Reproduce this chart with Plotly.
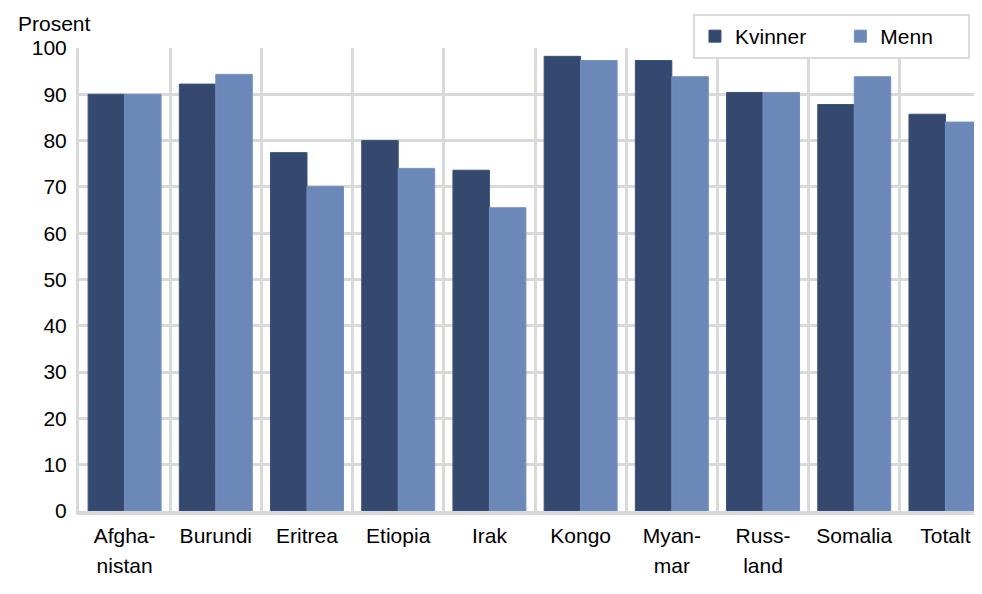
import plotly.graph_objects as go

categories = ["Afgha-<br>nistan", "Burundi", "Eritrea", "Etiopia", "Irak", "Kongo",
              "Myan-<br>mar", "Russ-<br>land", "Somalia", "Totalt"]
kvinner = [90.0, 92.2, 77.4, 80.0, 73.6, 98.2, 97.3, 90.4, 87.8, 85.7]
menn = [90.0, 94.3, 70.1, 74.0, 65.5, 97.3, 93.8, 90.4, 93.8, 84.0]
y_ticks = [0, 10, 20, 30, 40, 50, 60, 70, 80, 90, 100]
series_names = ["Kvinner", "Menn"]

FONT = "Liberation Sans, Arial, sans-serif"
GRID = "#D9D9D9"
x_idx = list(range(len(categories)))
PAD = "\u00a0" * 5

def tick_html(label):
    parts = label.split("<br>")
    return "<br>".join("<span style='font-size:21px'>" + p + "</span>" for p in parts)

fig = go.Figure()
fig.add_trace(go.Bar(name=series_names[0] + PAD, x=x_idx, y=kvinner, marker_color="#35496E",
                     marker_line=dict(color="#3A5080", width=1)))
fig.add_trace(go.Bar(name=series_names[1] + PAD, x=x_idx, y=menn, marker_color="#6B88B8",
                     marker_line=dict(color="#7390C0", width=1)))

fig.update_layout(
    width=966, height=578,
    margin=dict(l=71, r=0, t=40, b=75, autoexpand=False),
    paper_bgcolor="white", plot_bgcolor="white",
    barmode="group", bargap=0.2, bargroupgap=0,
    font=dict(family=FONT, size=21, color="black"),
    legend=dict(orientation="h", x=0.686, xanchor="left", y=1.0734, yanchor="top",
                bgcolor="white", bordercolor=GRID, borderwidth=2,
                font=dict(size=21), traceorder="normal"),
    annotations=[dict(text="Prosent", xref="paper", yref="paper", x=-0.0705, y=1.0238,
                      xanchor="left", yanchor="bottom", showarrow=False,
                      font=dict(size=21))],
    showlegend=True,
)
fig.update_xaxes(
    range=[-0.5, 9.313], tickmode="array", tickvals=x_idx,
    ticktext=[tick_html(c) for c in categories],
    tickfont=dict(size=23), showgrid=False, ticks="", ticklabelstandoff=0,
    minor=dict(tick0=0.5, dtick=1, showgrid=True, gridcolor=GRID, gridwidth=3),
    showline=True, linecolor=GRID, linewidth=4, zeroline=False, automargin=False,
)
fig.update_yaxes(
    range=[0, 100], tickvals=y_ticks, showgrid=True, gridcolor=GRID, gridwidth=3,
    showline=True, linecolor=GRID, linewidth=3, zeroline=False, ticks="",
    ticklabelstandoff=5, tickfont=dict(size=21), automargin=False,
)
fig.write_html("out.html")
